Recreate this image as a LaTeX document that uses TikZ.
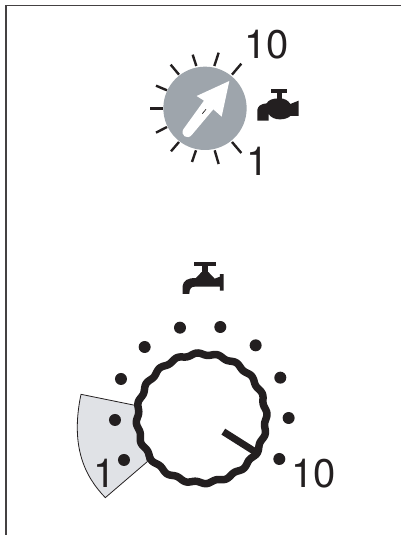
\documentclass[tikz,border=0pt]{standalone}
\usepackage{fontspec}
\setmainfont{TeX Gyre Heros}
\definecolor{dialgrey}{HTML}{9EA5AC}
\definecolor{wedgegrey}{HTML}{E0E2E6}
\definecolor{ink}{HTML}{231F20}
\tikzset{
  tickline/.style={ink,line width=2.4pt},
  numeral/.style={font=\fontsize{40}{40}\selectfont,text=ink,inner sep=0pt,anchor=base west},
  topzoom/.style={shift={(130,10)},x=0.3333pt,y=-0.3333pt},
  lowzoom/.style={shift={(60,250)},x=0.3333pt,y=-0.3333pt}
}
\begin{document}
\begin{tikzpicture}[x=1pt,y=-1pt]
\useasboundingbox (0,0) rectangle (401,535);
\fill[white] (0,0) rectangle (401,535);
\draw[ink!85,line width=1.2pt] (6,535) -- (6,5.5) -- (401,5.5);
% upper dial
\begin{scope}[topzoom]
\fill[dialgrey] (225,295) circle[radius=125];
\foreach \a/\b/\c/\d in {60/295/98/295,78/227/111/241,78/368/111/351,123/424/147/396,186/456/198/421,266/462/254/421,334/429/306/396,306/194/334/161,253/168/266/128,199/168/188/134,147/194/122/164}
  \draw[tickline] (\a,\b) -- (\c,\d);
\fill[white] (298,213) -- (200,258) -- (222,272) -- (160,358) .. controls (150,375) and (172,392) .. (186,374) -- (250,298) -- (275,320) -- cycle;
\draw[ink,line width=0.7pt] (217,311) -- (228,298);
\fill[ink] (423,237) rectangle (472,248);
\fill[ink] (441,248) rectangle (455,268);
\fill[ink] (382,332) -- (382,300) .. controls (384,288) and (392,282) .. (410,280)
  .. controls (415,270) and (428,265) .. (448,265) .. controls (465,265) and (475,272) .. (481,282)
  -- (506,272) -- (506,318) -- (481,318) .. controls (470,330) and (430,335) .. (416,312)
  -- (416,332) -- cycle;
\end{scope}
\node[numeral] (topten) at (244,59) {10};
\node[numeral] (topone) at (246,175) {1};
% lower dial
\begin{scope}[lowzoom]
\draw[ink,line width=0.8pt,fill=wedgegrey] (63,433) -- (225,466) -- (262,635) -- (136,743)
  .. controls (75,680) and (30,590) .. (63,433) -- cycle;
\foreach \a/\b in {360/233,481/231,254/291,587/286,183/387,661/383,165/510,686/504,192/630,658/627}
  \fill[ink] (\a,\b) circle[radius=18];
\draw[ink,line width=7.5pt,line join=round] plot[domain=0:360,samples=241,smooth]
  ({425+(193+3.5*cos(20*(\x-94)))*cos(\x)},{505-(193+3.5*cos(20*(\x-94)))*sin(\x)}) -- cycle;
\draw[ink,line width=7pt] (490,545) -- (588,607);
% lower tap
\fill[ink] (403,35) rectangle (467,47);
\fill[ink] (425,47) rectangle (443,68);
\fill[ink] (368,132) -- (368,108) .. controls (370,92) and (382,84) .. (408,84)
  -- (425,66) -- (445,66) -- (464,86) -- (480,80) -- (480,72) -- (491,72) -- (491,122) -- (480,122) -- (480,110)
  -- (405,110) .. controls (395,110) and (388,114) .. (388,132) -- cycle;
\end{scope}
\node[numeral] (lowone) at (93,487) {1};
\node[numeral] (lowten) at (291,487) {10};
\end{tikzpicture}
\end{document}
